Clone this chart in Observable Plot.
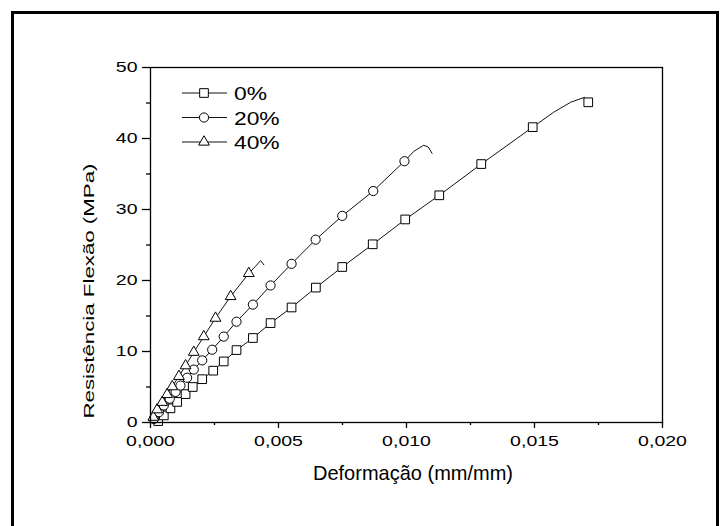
<!DOCTYPE html>
<html><head><meta charset="utf-8">
<script src="https://cdn.jsdelivr.net/npm/d3@7"></script>
<script src="https://cdn.jsdelivr.net/npm/@observablehq/plot@0.6"></script>
<style>
body{margin:0;background:#fff;overflow:hidden}
#wrap{position:relative;width:720px;height:526px;overflow:hidden;background:#fff}
#border{position:absolute;left:11px;top:11px;width:702px;height:600px;border:3px solid #000}
#wrap svg{position:absolute;left:0;top:0}
</style></head>
<body><div id="wrap"><div id="border"></div></div>
<script>
const series = ["0%", "20%", "40%"];

// 0% (squares)
const strain0 = [0.00030,0.00052,0.00078,0.00104,0.00137,0.00165,0.00202,0.00245,0.00286,0.00336,0.00400,0.00469,0.00551,0.00646,0.00749,0.00868,0.00995,0.01128,0.01292,0.01493,0.01710];
const stress0 = [0.2,1.0,2.0,2.9,4.0,5.0,6.1,7.3,8.6,10.2,11.9,14.0,16.2,19.0,21.9,25.1,28.6,32.0,36.4,41.6,45.1];
const tailStrain0 = [0.00020,0.01575,0.01641,0.01695];
const tailStress0 = [0.0,43.7,45.1,45.8];

// 20% (circles)
const strain20 = [0.00013,0.00033,0.00052,0.00075,0.00098,0.00117,0.00143,0.00169,0.00202,0.00241,0.00286,0.00336,0.00400,0.00469,0.00551,0.00645,0.00749,0.00870,0.00992];
const stress20 = [0.5,1.45,2.4,3.35,4.3,5.2,6.3,7.45,8.75,10.25,12.1,14.2,16.6,19.3,22.35,25.75,29.1,32.6,36.8];
const tailStrain20 = [0.0,0.01029,0.01067,0.01085,0.01100];
const tailStress20 = [0.0,38.2,39.05,38.8,37.9];

// 40% (triangles)
const strain40 = [0.00011,0.00026,0.00046,0.00065,0.00085,0.00111,0.00137,0.00169,0.00208,0.00254,0.00313,0.00384];
const stress40 = [0.75,1.8,2.85,3.95,5.05,6.5,8.0,9.9,12.1,14.7,17.75,21.0];
const tailStrain40 = [0.0,0.00410,0.00430,0.00443];
const tailStress40 = [0.0,22.0,22.8,22.2];

const xTicks = [0, 0.005, 0.010, 0.015, 0.020];
const xMinor = [0.0025, 0.0075, 0.0125, 0.0175];
const yTicks = [0, 10, 20, 30, 40, 50];
const yMinor = [5, 15, 25, 35, 45];

const xTitle = "Deformação (mm/mm)";
const yTitle = "Resistência Flexão (MPa)";

const symbols = ["square", "circle", "triangle"];
const radii = [4.9, 4.6, 4.0];

const raw = [[strain0, stress0, tailStrain0, tailStress0],
             [strain20, stress20, tailStrain20, tailStress20],
             [strain40, stress40, tailStrain40, tailStress40]];
const markers = [], lines = [];
raw.forEach(([sx, sy, tx, ty], k) => {
  const m = sx.map((v, i) => ({s: series[k], x: v, y: sy[i]}));
  markers.push(m);
  const l = m.concat(tx.map((v, i) => ({s: series[k], x: v, y: ty[i]}))).sort((a, b) => a.x - b.x);
  lines.push(...l);
});

const fmt = d => d.toFixed(3).replace(".", ",");

const chart = Plot.plot({
  width: 720, height: 526,
  marginLeft: 150, marginRight: 58, marginTop: 67, marginBottom: 104,
  x: {domain: [0, 0.02]},
  y: {domain: [0, 50]},
  style: {fontFamily: "'Liberation Sans', Arial, sans-serif", fontSize: "15px", color: "#000", background: "transparent"},
  marks: [
    Plot.axisX({ticks: xTicks, tickFormat: fmt, tickSize: 6, tickPadding: 7, label: null, strokeWidth: 1.3}),
    Plot.axisX({ticks: xMinor, tickFormat: () => "", tickSize: 3, label: null, strokeWidth: 1.3}),
    Plot.axisY({ticks: yTicks, tickFormat: d => String(d), tickSize: 8, tickPadding: 5, label: null, strokeWidth: 1.3}),
    Plot.axisY({ticks: yMinor, tickFormat: () => "", tickSize: 4, label: null, strokeWidth: 1.3}),
    Plot.line(lines, {x: "x", y: "y", z: "s", stroke: "#111", strokeWidth: 1}),
    ...markers.map((m, k) => Plot.dot(m, {x: "x", y: "y", symbol: () => symbols[k], r: radii[k], fill: "white", stroke: "#000", strokeWidth: 1})),
    Plot.frame({stroke: "#000", strokeWidth: 1.3})
  ]
});
document.getElementById("wrap").appendChild(chart);

const svg = d3.select(chart);
svg.selectAll("g[aria-label^='x-axis tick label'] text, g[aria-label^='y-axis tick label'] text").each(function() {
  const len = this.getComputedTextLength();
  if (len > 0) { this.setAttribute("textLength", len * 1.3); this.setAttribute("lengthAdjust", "spacingAndGlyphs"); }
});

const font = "'Liberation Sans', Arial, sans-serif";
svg.append("text").attr("x", 413).attr("y", 480).attr("text-anchor", "middle")
  .attr("font-family", font).attr("font-size", 21).attr("textLength", 200).attr("lengthAdjust", "spacingAndGlyphs")
  .text(xTitle);
svg.append("text").attr("transform", "translate(94,291) rotate(-90)").attr("text-anchor", "middle")
  .attr("font-family", font).attr("font-size", 14.5).attr("textLength", 255).attr("lengthAdjust", "spacingAndGlyphs")
  .text(yTitle);

// legend
const lg = svg.append("g");
series.forEach((name, i) => {
  const cy = 93 + i * 24.5;
  lg.append("line").attr("x1", 182).attr("x2", 227).attr("y1", cy).attr("y2", cy).attr("stroke", "#111");
  const sym = [d3.symbolSquare, d3.symbolCircle, d3.symbolTriangle][i];
  lg.append("path").attr("d", d3.symbol(sym, radii[i] * radii[i] * Math.PI)()).attr("transform", `translate(204,${cy})`)
    .attr("fill", "white").attr("stroke", "#000");
  const t = lg.append("text").attr("x", 234).attr("y", cy + 7).attr("text-anchor", "start")
    .attr("font-family", font).attr("font-size", 19).text(name);
  const len = t.node().getComputedTextLength();
  t.attr("textLength", len * 1.2).attr("lengthAdjust", "spacingAndGlyphs");
});
</script>
</body></html>
